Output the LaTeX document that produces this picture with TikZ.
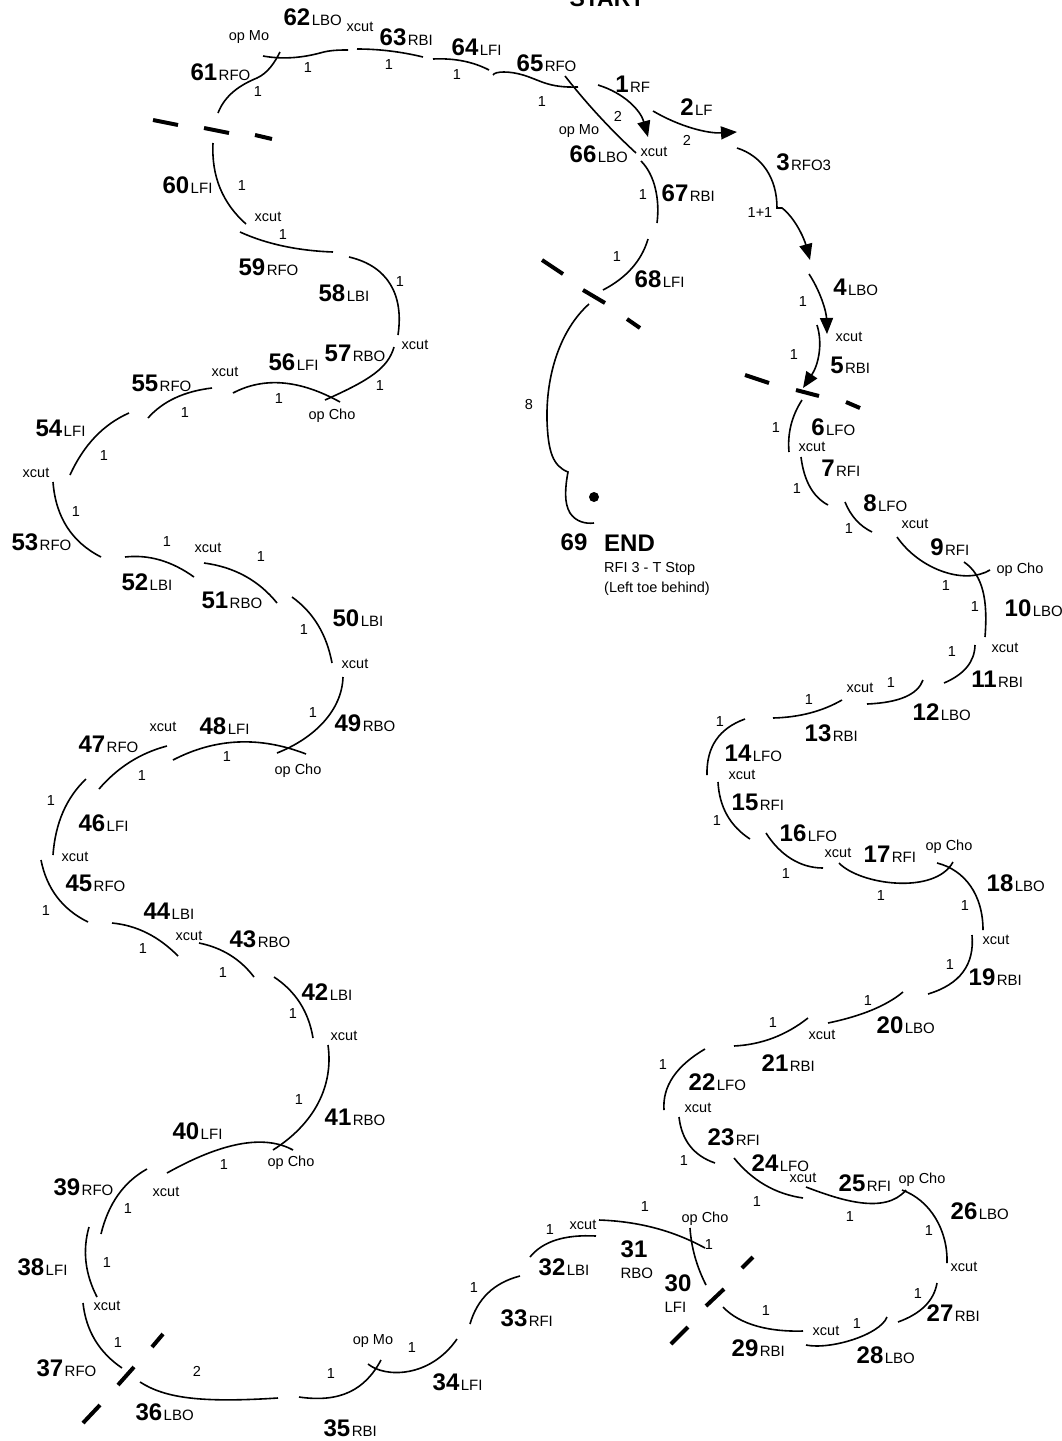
\documentclass[tikz,border=0pt]{standalone}
\usepackage{fontspec}
\setmainfont{Liberation Sans}
\usetikzlibrary{arrows.meta}
\newcommand\skarc[7][]{\draw[edge,#1] (#2,#3) .. controls ({(4*#4-#6)/3},{(4*#5-#7)/3}) and ({(4*#4-#2)/3},{(4*#5-#3)/3}) .. (#6,#7);}
\newcommand\numlab[4]{\node[num] (n#3) at (#1,{#2+8.5}) {#3}; \node[sub] (s#3) at ([xshift=1pt]n#3.base east) {#4};}
\newcounter{smc}
\newcommand\smlab[3]{\stepcounter{smc}\node[sm] (l\thesmc) at (#1,#2) {#3};}
\begin{document}
\begin{tikzpicture}[x=1pt,y=-1pt,
  edge/.style={line width=1.6pt},
  cutmark/.style={line width=4pt},
  num/.style={font=\fontsize{24}{24}\selectfont\bfseries, inner sep=0pt, anchor=base},
  sub/.style={font=\fontsize{15}{15}\selectfont, inner sep=0pt, anchor=base west},
  sm/.style={font=\fontsize{14.5}{14.5}\selectfont, inner sep=0pt},
  arr/.style={-{Triangle[length=16pt,width=13pt]}}]
\useasboundingbox (0,0) rectangle (1062,1441);

\node[font=\fontsize{23}{23}\selectfont\bfseries, inner sep=0pt, anchor=base] (start) at (607,6) {START};

% ---------- edges ----------
\draw[edge] (218,113) .. controls (225,95) and (240,85) .. (257,78) .. controls (268,73) and (275,62) .. (280,52); % 61
\draw[edge] (263,56) .. controls (285,60) and (305,57) .. (320,53) .. controls (330,50) and (340,50) .. (348,50); % 62
\skarc{357}{49}{390}{51}{423}{57} % 63
\skarc{433}{59}{463}{61}{489}{70} % 64
\draw[edge] (493,75) .. controls (495,71) and (510,71) .. (523,75) .. controls (540,80) and (548,88) .. (578,87); % 65
\skarc{565}{76}{599}{116}{636}{153} % 66
\skarc[arr]{598}{85}{630}{104}{648}{137} % 1
\skarc[arr]{653}{111}{694}{128}{737}{132} % 2
\draw[edge,arr] (737,148) .. controls (762,156) and (777,178) .. (777,208) -- (782,208) .. controls (795,218) and (804,238) .. (810,260); % 3
\skarc[arr]{809}{274}{822}{302}{827}{334} % 4
\skarc[arr]{817}{325}{818}{355}{803}{388} % 5
\skarc{802}{400}{791}{425}{789}{452} % 6
\skarc{801}{457}{810}{487}{828}{505} % 7
\skarc{845}{502}{856}{520}{872}{532} % 8
\draw[edge] (897,537) .. controls (920,570) and (965,585) .. (990,570); % 9
\draw[edge] (964,562) .. controls (983,575) and (988,600) .. (985,637); % 10
\skarc{975}{645}{967}{667}{944}{683} % 11
\skarc{923}{680}{905}{697}{867}{704} % 12
\skarc{842}{700}{810}{713}{773}{718} % 13
\skarc{745}{719}{716}{740}{707}{775} % 14
\skarc{718}{782}{727}{815}{750}{839} % 15
\draw[edge] (766,833) .. controls (780,855) and (800,868) .. (823,868); % 16
\draw[edge] (839,863) .. controls (860,885) and (935,895) .. (953,862); % 17
\draw[edge] (937,863) .. controls (965,870) and (983,895) .. (983,930); % 18
\skarc{972}{935}{963}{972}{928}{994} % 19
\skarc{903}{992}{872}{1010}{828}{1023} % 20
\skarc{808}{1018}{773}{1038}{734}{1046} % 21
\skarc{705}{1049}{673}{1077}{664}{1110} % 22
\skarc{679}{1117}{690}{1146}{715}{1163} % 23
\skarc{734}{1158}{765}{1185}{803}{1198} % 24
\draw[edge] (806,1187) .. controls (840,1200) and (885,1215) .. (906,1190); % 25
\draw[edge] (902,1190) .. controls (930,1200) and (948,1230) .. (947,1263); % 26
\skarc{898}{1322}{925}{1306}{937}{1283} % 27
\draw[edge] (806,1345) .. controls (830,1350) and (880,1335) .. (887,1317); % 28
\draw[edge] (723,1307) .. controls (740,1325) and (770,1332) .. (803,1331); % 29
\skarc{690}{1228}{695}{1257}{706}{1285} % 30
\skarc{599}{1220}{655}{1228}{705}{1248} % 31
\skarc{530}{1257}{556}{1240}{596}{1236} % 32
\skarc{470}{1324}{488}{1293}{520}{1276} % 33
\draw[edge] (368,1364) .. controls (385,1378) and (430,1378) .. (457,1339); % 34
\draw[edge] (299,1397) .. controls (340,1403) and (365,1390) .. (381,1360); % 35
\draw[edge] (140,1382) .. controls (165,1398) and (200,1403) .. (278,1398); % 36
\skarc{83}{1303}{95}{1340}{122}{1368} % 37
\skarc{89}{1227}{86}{1262}{97}{1297} % 38
\skarc{101}{1234}{118}{1195}{147}{1169} % 39
\skarc{167}{1173}{240}{1144}{293}{1150} % 40
\draw[edge] (328,1045) .. controls (333,1080) and (320,1120) .. (273,1150); % 41
\skarc{274}{977}{300}{1003}{313}{1038} % 42
\skarc{199}{943}{230}{955}{254}{977} % 43
\skarc{112}{923}{147}{933}{178}{956} % 44
\skarc{41}{860}{57}{897}{88}{922} % 45
\skarc{53}{855}{63}{812}{86}{779} % 46
\skarc{99}{789}{130}{762}{167}{746} % 47
\skarc{173}{760}{238}{742}{306}{754} % 48
\draw[edge] (343,677) .. controls (342,710) and (315,738) .. (277,753); % 49
\skarc{292}{597}{318}{625}{332}{663} % 50
\skarc{204}{563}{245}{576}{277}{603} % 51
\skarc{125}{557}{160}{560}{194}{577} % 52
\skarc{53}{482}{67}{527}{101}{557} % 53
\skarc{70}{475}{95}{437}{129}{413} % 54
\skarc{148}{418}{175}{398}{212}{388} % 55
\skarc{233}{393}{283}{383}{340}{402} % 56
\draw[edge] (394,347) .. controls (388,368) and (370,380) .. (325,400); % 57
\draw[edge] (349,257) .. controls (388,266) and (404,295) .. (398,335); % 58
\skarc{240}{232}{283}{246}{333}{252} % 59
\skarc{213}{143}{220}{188}{246}{224} % 60
\draw[edge] (641,161) .. controls (655,175) and (660,200) .. (657,223); % 67
\skarc{648}{239}{632}{268}{603}{290} % 68
\draw[edge] (589,304) .. controls (560,330) and (546,375) .. (547,420) .. controls (548,452) and (553,466) .. (568,472) .. controls (565,488) and (564,503) .. (570,513) .. controls (576,522) and (586,524) .. (594,523); % 69
\node[circle, fill, inner sep=0pt, minimum size=10pt] (dot) at (594,497) {};

% ---------- cut marks ----------
\draw[cutmark] (153,120)--(178,125); \draw[cutmark] (204,128)--(229,133); \draw[cutmark] (255,135)--(272,139);
\draw[cutmark] (542,260)--(563,274); \draw[cutmark] (583,290)--(605,303); \draw[cutmark] (627,319)--(640,328);
\draw[cutmark] (745,375)--(769,383); \draw[cutmark] (796,390)--(819,396); \draw[cutmark] (846,402)--(860,408);
\draw[cutmark] (742,1268)--(753,1257); \draw[cutmark] (706,1306)--(724,1289); \draw[cutmark] (671,1344)--(688,1327);
\draw[cutmark] (152,1347)--(163,1334); \draw[cutmark] (118,1385)--(134,1367); \draw[cutmark] (83,1423)--(100,1405);

% ---------- step labels ----------
\numlab{622}{84}{1}{RF}
\numlab{687}{107}{2}{LF}
\numlab{783}{162}{3}{RFO3}
\numlab{840}{287}{4}{LBO}
\numlab{837}{365}{5}{RBI}
\numlab{818}{427}{6}{LFO}
\numlab{828}{468}{7}{RFI}
\numlab{870}{503}{8}{LFO}
\numlab{937}{547}{9}{RFI}
\numlab{1018}{608}{10}{LBO}
\numlab{984}{679}{11}{RBI}
\numlab{926}{712}{12}{LBO}
\numlab{818}{733}{13}{RBI}
\numlab{738}{753}{14}{LFO}
\numlab{745}{802}{15}{RFI}
\numlab{793}{833}{16}{LFO}
\numlab{877}{854}{17}{RFI}
\numlab{1000}{883}{18}{LBO}
\numlab{982}{977}{19}{RBI}
\numlab{890}{1025}{20}{LBO}
\numlab{775}{1063}{21}{RBI}
\numlab{702}{1082}{22}{LFO}
\numlab{721}{1137}{23}{RFI}
\numlab{765}{1163}{24}{LFO}
\numlab{852}{1183}{25}{RFI}
\numlab{964}{1211}{26}{LBO}
\numlab{940}{1313}{27}{RBI}
\numlab{870}{1355}{28}{LBO}
\numlab{745}{1348}{29}{RBI}
\node[num] (n30) at (678,1291.5) {30};
\node[sub] (s30) at ([yshift=-21pt]n30.base west) {LFI};
\node[num] (n31) at (634,1257.5) {31};
\node[sub] (s31) at ([yshift=-21pt]n31.base west) {RBO};
\numlab{552}{1267}{32}{LBI}
\numlab{514}{1318}{33}{RFI}
\numlab{446}{1382}{34}{LFI}
\numlab{337}{1428}{35}{RBI}
\numlab{149}{1412}{36}{LBO}
\numlab{50}{1368}{37}{RFO}
\numlab{31}{1267}{38}{LFI}
\numlab{67}{1187}{39}{RFO}
\numlab{186}{1131}{40}{LFI}
\numlab{338}{1117}{41}{RBO}
\numlab{315}{992}{42}{LBI}
\numlab{243}{939}{43}{RBO}
\numlab{157}{911}{44}{LBI}
\numlab{79}{883}{45}{RFO}
\numlab{92}{823}{46}{LFI}
\numlab{92}{744}{47}{RFO}
\numlab{213}{726}{48}{LFI}
\numlab{348}{723}{49}{RBO}
\numlab{346}{618}{50}{LBI}
\numlab{215}{600}{51}{RBO}
\numlab{135}{582}{52}{LBI}
\numlab{25}{542}{53}{RFO}
\numlab{49}{428}{54}{LFI}
\numlab{145}{383}{55}{RFO}
\numlab{282}{362}{56}{LFI}
\numlab{338}{353}{57}{RBO}
\numlab{332}{293}{58}{LBI}
\numlab{252}{267}{59}{RFO}
\numlab{176}{185}{60}{LFI}
\numlab{204}{72}{61}{RFO}
\numlab{297}{17}{62}{LBO}
\numlab{393}{37}{63}{RBI}
\numlab{465}{47}{64}{LFI}
\numlab{530}{63}{65}{RFO}
\numlab{583}{154}{66}{LBO}
\numlab{675}{193}{67}{RBI}
\numlab{648}{279}{68}{LFI}
\node[num] (n69) at (574,550.5) {69};
\node[num, anchor=base west] (endlab) at (604,551.5) {END};
\node[sm, anchor=base west] (endnote1) at (604,572) {RFI 3 - T Stop};
\node[sm, anchor=base west] (endnote2) at (604,592) {(Left toe behind)};

% ---------- small labels ----------
\smlab{308}{68}{1} \smlab{258}{92}{1} \smlab{249}{37}{op Mo} \smlab{360}{27}{xcut}
\smlab{389}{65}{1} \smlab{457}{75}{1} \smlab{542}{102}{1} \smlab{579}{131}{op Mo}
\smlab{618}{116}{2} \smlab{687}{140}{2} \smlab{654}{152}{xcut} \smlab{643}{195}{1}
\smlab{617}{257}{1} \smlab{529}{405}{8} \smlab{760}{213}{1+1} \smlab{803}{302}{1}
\smlab{849}{337}{xcut} \smlab{794}{355}{1} \smlab{776}{428}{1} \smlab{812}{447}{xcut}
\smlab{797}{489}{1} \smlab{849}{529}{1} \smlab{915}{524}{xcut} \smlab{946}{586}{1}
\smlab{1020}{570}{op Cho} \smlab{975}{607}{1} \smlab{1005}{648}{xcut} \smlab{952}{652}{1}
\smlab{891}{683}{1} \smlab{860}{688}{xcut} \smlab{809}{700}{1} \smlab{720}{722}{1}
\smlab{742}{775}{xcut} \smlab{717}{820}{1} \smlab{786}{873}{1} \smlab{838}{853}{xcut}
\smlab{881}{895}{1} \smlab{949}{847}{op Cho} \smlab{965}{905}{1} \smlab{996}{940}{xcut}
\smlab{950}{964}{1} \smlab{868}{1000}{1} \smlab{822}{1035}{xcut} \smlab{773}{1022}{1}
\smlab{663}{1064}{1} \smlab{698}{1108}{xcut} \smlab{684}{1160}{1} \smlab{757}{1201}{1}
\smlab{803}{1178}{xcut} \smlab{850}{1216}{1} \smlab{922}{1180}{op Cho} \smlab{929}{1230}{1}
\smlab{964}{1267}{xcut} \smlab{918}{1293}{1} \smlab{857}{1323}{1} \smlab{826}{1331}{xcut}
\smlab{766}{1310}{1} \smlab{709}{1244}{1} \smlab{705}{1219}{op Cho} \smlab{645}{1206}{1}
\smlab{583}{1225}{xcut} \smlab{550}{1229}{1} \smlab{474}{1287}{1} \smlab{412}{1347}{1}
\smlab{373}{1341}{op Mo} \smlab{331}{1373}{1} \smlab{197}{1371}{2} \smlab{118}{1342}{1}
\smlab{107}{1306}{xcut} \smlab{107}{1262}{1} \smlab{128}{1208}{1} \smlab{166}{1192}{xcut}
\smlab{224}{1164}{1} \smlab{291}{1163}{op Cho} \smlab{299}{1099}{1} \smlab{344}{1036}{xcut}
\smlab{293}{1013}{1} \smlab{223}{972}{1} \smlab{189}{936}{xcut} \smlab{143}{948}{1}
\smlab{46}{910}{1} \smlab{75}{857}{xcut} \smlab{51}{800}{1} \smlab{142}{775}{1}
\smlab{163}{727}{xcut} \smlab{227}{756}{1} \smlab{298}{771}{op Cho} \smlab{313}{713}{1}
\smlab{355}{664}{xcut} \smlab{304}{630}{1} \smlab{261}{557}{1} \smlab{208}{548}{xcut}
\smlab{167}{542}{1} \smlab{76}{512}{1} \smlab{36}{473}{xcut} \smlab{104}{456}{1}
\smlab{185}{413}{1} \smlab{225}{372}{xcut} \smlab{279}{399}{1} \smlab{332}{416}{op Cho}
\smlab{380}{386}{1} \smlab{415}{345}{xcut} \smlab{400}{282}{1} \smlab{283}{235}{1}
\smlab{268}{217}{xcut} \smlab{242}{186}{1}
\end{tikzpicture}
\end{document}
